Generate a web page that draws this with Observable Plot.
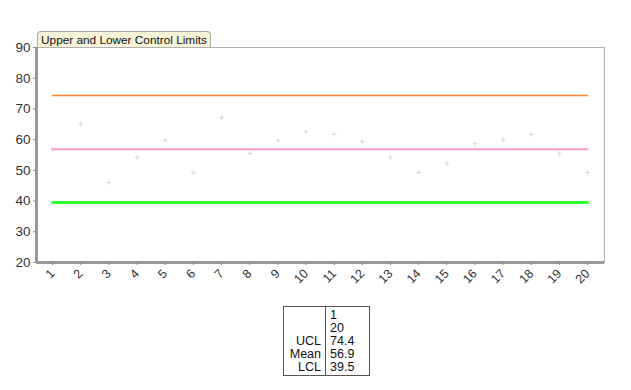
<!DOCTYPE html>
<html><head><meta charset="utf-8">
<script src="https://cdn.jsdelivr.net/npm/d3@7"></script>
<script src="https://cdn.jsdelivr.net/npm/@observablehq/plot@0.6"></script>
<style>
body{margin:0;background:#fff;font-family:"Liberation Sans",Arial,sans-serif;}
#wrap{position:relative;width:631px;height:390px;}
#tab{position:absolute;left:37px;top:31px;width:174px;height:16px;background:#f6f3d9;border:1px solid #a9a9a0;border-bottom:none;border-radius:4px 4px 0 0;font-size:11.8px;line-height:16px;text-align:center;color:#111;box-sizing:border-box;white-space:nowrap;overflow:visible;}
#tbl{position:absolute;left:283px;top:306px;border-collapse:collapse;font-size:12.5px;color:#111;border:1px solid #555;}
#tbl td{padding:2px 4px 1px 4px;line-height:13px;vertical-align:top;}
</style></head>
<body><div id="wrap"><div id="chart"></div><div id="tab">Upper and Lower Control Limits</div>
<table id="tbl"><tr><td id="lab" style="border-right:1px solid #555;width:33px;text-align:right"></td><td id="val" style="width:35px"></td></tr></table>
</div>
<script>
const samples = [1,2,3,4,5,6,7,8,9,10,11,12,13,14,15,16,17,18,19,20];
const values = [56.9,65,46,54.2,59.7,49.3,67.2,55.5,59.7,62.6,61.7,59.4,54.2,49.3,52.2,58.7,60,61.7,55.5,49.3];
const limitNames = ["UCL","Mean","LCL"];
const limitValues = [74.4,56.9,39.5];
const limitColors = ["#ff7f2a","#ff99cc","#33ff33"];
const limitWidths = [1.5,2,3];
const tableLabels = ["","","UCL","Mean","LCL"];
const tableValues = ["1","20","74.4","56.9","39.5"];

const pts = samples.map((s,i)=>({s, v: values[i]}));
const limits = [];
limitNames.forEach((n,i)=>{ limits.push({name:n, s:samples[0], v:limitValues[i]}); limits.push({name:n, s:samples[samples.length-1], v:limitValues[i]}); });

const marks = [
  Plot.frame({stroke:"#b0b0b0", strokeWidth:1}),
  Plot.ruleX([0.43], {stroke:"#9a9a9a", strokeWidth:3}),
  Plot.ruleY([20], {stroke:"#9a9a9a", strokeWidth:3}),
  Plot.axisY({ticks:[20,30,40,50,60,70,80,90], tickSize:3, tickPadding:3, fontSize:13.5, color:"#333", label:null, stroke:"#888"}),
  Plot.axisX({ticks:samples, tickSize:3, tickRotate:-45, tickPadding:6, fontSize:12.5, color:"#333", label:null, stroke:"#888"}),
  Plot.dot(pts, {x:"s", y:"v", symbol:"plus", r:1.6, stroke:"#d8d8d8", strokeWidth:1})
];
limitNames.forEach((n,i)=>{
  marks.push(Plot.line(limits.filter(d=>d.name===n), {x:"s", y:"v", stroke:limitColors[i], strokeWidth:limitWidths[i]}));
});

const chart = Plot.plot({
  width:631, height:300,
  marginLeft:36, marginRight:27, marginTop:47, marginBottom:38,
  style:{fontFamily:"Liberation Sans, Arial, sans-serif", background:"#fff"},
  x:{domain:[0.43,20.6]},
  y:{domain:[20,90]},
  marks
});
document.getElementById("chart").appendChild(chart);
document.getElementById("lab").innerHTML = tableLabels.map(t=>t||"&nbsp;").join("<br>");
document.getElementById("val").innerHTML = tableValues.join("<br>");
</script></body></html>
